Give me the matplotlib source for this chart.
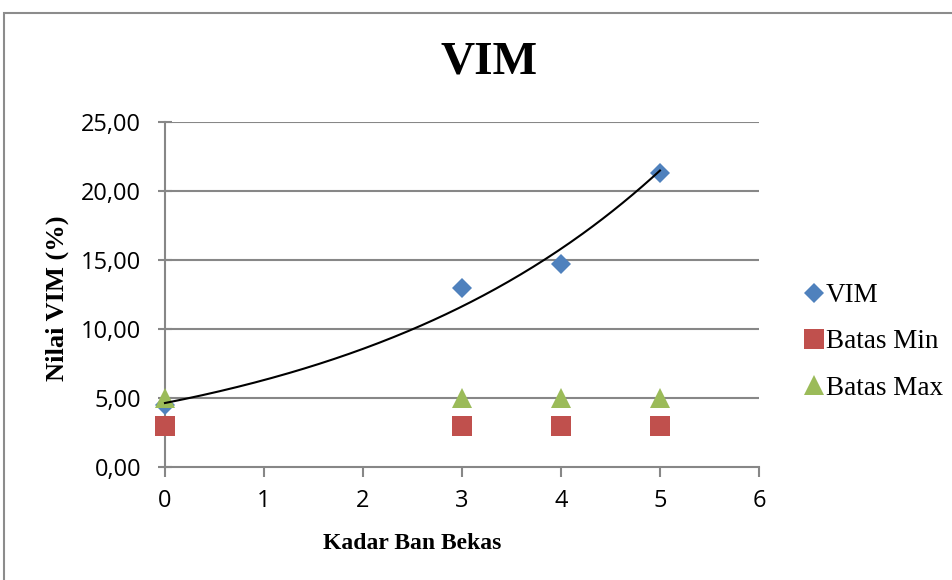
import numpy as np
from matplotlib import pyplot as plt
from matplotlib.patches import Rectangle
from matplotlib.ticker import FuncFormatter

# data
kadar = [0, 3, 4, 5]
vim = [4.5, 13.0, 14.7, 21.3]
batas_min = [3, 3, 3, 3]
batas_max = [5, 5, 5, 5]

blue = '#4F81BD'
red = '#C0504D'
green = '#9BBB59'
grid_gray = '#878787'

fig = plt.figure(figsize=(9.53, 5.80), dpi=100)
ax = fig.add_axes([0.1731, 0.1948, 0.6233, 0.5949])

# outer chart border (runs off the right and bottom edge)
fig.patches.append(Rectangle((4/953, -0.1), 1.2, 1 - 13/580 + 0.1,
                             transform=fig.transFigure, fill=False,
                             edgecolor='#8c8c8c', lw=1.5))

# exponential trendline on the VIM series
b, a = np.polyfit(kadar, np.log(vim), 1)
xt = np.linspace(min(kadar), max(kadar), 200)
ax.plot(xt, np.exp(a + b*xt), color='black', lw=1.5, zorder=6, clip_on=False)

ax.plot(kadar, vim, 'D', color=blue, ms=10.2, mew=0, label='VIM', zorder=3, clip_on=False)
ax.plot(kadar, batas_min, 's', color=red, ms=14.4, mew=0, label='Batas Min', zorder=3,
        clip_on=False)
ax.plot(kadar, batas_max, '^', color=green, ms=14.4, mew=0, label='Batas Max', zorder=5,
        clip_on=False)

ax.set_xlim(0, 6)
ax.set_ylim(0, 25)
ax.set_xticks(range(0, 7))
ax.set_yticks(np.arange(0, 26, 5))
ax.yaxis.set_major_formatter(FuncFormatter(lambda v, p: ('%.2f' % v).replace('.', ',')))

for y in np.arange(5, 26, 5):
    ax.axhline(y, color=grid_gray, lw=1.5, zorder=1)

for s in ['top', 'right']:
    ax.spines[s].set_visible(False)
for s in ['left', 'bottom']:
    ax.spines[s].set_color(grid_gray)
    ax.spines[s].set_linewidth(1.5)
ax.tick_params(axis='both', colors=grid_gray, width=1.5, length=7, labelcolor='black',
               labelsize=17)
ax.tick_params(axis='y', direction='inout', length=10, pad=12)
ax.tick_params(axis='x', pad=9)
for lab in ax.get_xticklabels() + ax.get_yticklabels():
    lab.set_family('Open Sans')

serif = 'Liberation Serif'
ax.set_xlabel('Kadar Ban Bekas', family=serif, weight='bold', fontsize=17)
ax.xaxis.set_label_coords((412 - 165)/594, -(543 - 467)/345)
ax.set_ylabel('Nilai VIM (%)', family=serif, weight='bold', fontsize=19)
ax.yaxis.set_label_coords((57 - 165)/594, 0.49)
ax.xaxis.label.set_va('center')
ax.yaxis.label.set_va('center')
fig.text(489/953, 1 - 62/580, 'VIM', family=serif, weight='bold', fontsize=34,
         ha='center', va='center')

fig.legend(loc='center left', bbox_to_anchor=(795/953, 1 - 342/580), frameon=False,
           prop={'family': serif, 'size': 19.5}, handlelength=0.6, handletextpad=0.15,
           labelspacing=0.78, borderaxespad=0)

fig.savefig('out.png', dpi=100)
